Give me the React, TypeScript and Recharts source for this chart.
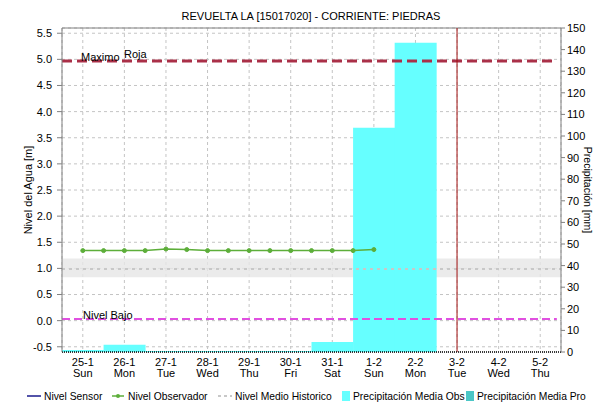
import React from 'react';
import {
  ComposedChart,
  Bar,
  Line,
  XAxis,
  YAxis,
  CartesianGrid,
  ReferenceLine,
  ReferenceArea,
} from 'recharts';

// ---- data ----
const days = ['25-1', '26-1', '27-1', '28-1', '29-1', '30-1', '31-1', '1-2', '2-2', '3-2', '4-2', '5-2'];
const weekdays = ['Sun', 'Mon', 'Tue', 'Wed', 'Thu', 'Fri', 'Sat', 'Sun', 'Mon', 'Tue', 'Wed', 'Thu'];
const precipObs = [0.9, 3.4, 0.5, 0.5, 0.5, 0.5, 4.6, 103.8, 143.2, 0, 0, 0];

// observer readings every 12 h (in day units from 25-1)
const obsTimes = [0, 0.5, 1, 1.5, 2, 2.5, 3, 3.5, 4, 4.5, 5, 5.5, 6, 6.5, 7];
const obsLevels = [1.34, 1.34, 1.34, 1.34, 1.37, 1.36, 1.34, 1.34, 1.34, 1.34, 1.34, 1.34, 1.34, 1.34, 1.36];

const leftTicks = [-0.5, 0, 0.5, 1, 1.5, 2, 2.5, 3, 3.5, 4, 4.5, 5, 5.5];
const rightTicks = [0, 10, 20, 30, 40, 50, 60, 70, 80, 90, 100, 110, 120, 130, 140, 150];

const nivelMaximo = 4.97;
const nivelBajo = 0.03;
const nivelMedio = 0.99;
const medioBandLow = 0.83;
const medioBandHigh = 1.19;
const currentDay = 9;
const leftDomain: [number, number] = [-0.6, 5.6];
const rightDomain: [number, number] = [0, 150];
const timeDomain: [number, number] = [-0.5, 11.5];

const chartData = days.map((d, i) => ({ day: d, wd: weekdays[i], obs: precipObs[i] }));
const obsData = obsTimes.map((t, i) => ({ t, level: obsLevels[i] }));

const FONT = '"Liberation Sans", Arial, sans-serif';

const DayTick = (props: any) => {
  const { x, y, payload, index } = props;
  return (
    <g>
      <text x={x} y={y + 14} textAnchor="middle" fontSize={11} fontFamily={FONT} fill="#000">
        {payload.value}
      </text>
      <text x={x} y={y + 24.5} textAnchor="middle" fontSize={11} fontFamily={FONT} fill="#000">
        {weekdays[index] ?? chartData[index]?.wd}
      </text>
    </g>
  );
};

const MaximoLabel = (props: any) => {
  const vb = props.viewBox || {};
  const x0 = vb.x ?? 62;
  const y0 = vb.y ?? 60;
  return (
    <g>
      <text x={x0 + 19} y={y0 + 0.5} fontSize={11} fontFamily={FONT} fill="#000">Maximo</text>
      <text x={x0 + 62} y={y0 - 2.5} fontSize={11} fontFamily={FONT} fill="#000">Roja</text>
    </g>
  );
};

const BajoLabel = (props: any) => {
  const vb = props.viewBox || {};
  const x0 = vb.x ?? 62;
  const y0 = vb.y ?? 319;
  return (
    <text x={x0 + 21} y={y0 - 0.5} fontSize={11} fontFamily={FONT} fill="#000">Nivel Bajo</text>
  );
};

const legendItems = [
  { left: 27, label: 'Nivel Sensor', kind: 'line', color: '#1a1a8c' },
  { left: 112, label: 'Nivel Observador', kind: 'dotline', color: '#5DAE3A' },
  { left: 218, label: 'Nivel Medio Historico', kind: 'dash', color: '#c8c8c8' },
  { left: 342, label: 'Precipitación Media Obs', kind: 'box', color: '#66FFFF' },
  { left: 466, label: 'Precipitación Media Pro', kind: 'box', color: '#4CC6C6' },
];

const Swatch = ({ kind, color }: { kind: string; color: string }) => {
  if (kind === 'box') {
    return (
      <svg width={8} height={10} style={{ display: 'block', marginRight: 3 }}>
        <rect x={0} y={0} width={8} height={10} fill={color} />
      </svg>
    );
  }
  const w = kind === 'dotline' ? 12 : 14;
  return (
    <svg width={w} height={10} style={{ display: 'block', marginRight: kind === 'dotline' ? 4 : 3 }}>
      <line
        x1={0}
        x2={w}
        y1={5}
        y2={5}
        stroke={color}
        strokeWidth={kind === 'dash' ? 2 : 1.5}
        strokeDasharray={kind === 'dash' ? '3 3' : undefined}
      />
      {kind === 'dotline' && <circle cx={w / 2} cy={5} r={2} fill={color} />}
    </svg>
  );
};

export default function App() {
  return (
    <div
      style={{
        position: 'absolute',
        left: 0,
        top: 0,
        width: 593,
        height: 404,
        background: '#fff',
        overflow: 'hidden',
        fontFamily: FONT,
      }}
    >
      <div
        style={{
          position: 'absolute',
          left: 0,
          width: 622,
          top: 9,
          textAlign: 'center',
          fontSize: 11,
          lineHeight: '14px',
          color: '#000',
          whiteSpace: 'nowrap',
        }}
      >
        REVUELTA LA [15017020] - CORRIENTE: PIEDRAS
      </div>
      <ComposedChart
        width={593}
        height={404}
        data={chartData}
        margin={{ top: 28, right: 0, bottom: 22, left: 0 }}
        barCategoryGap={0}
        barGap={0}
      >
        <CartesianGrid xAxisId="cat" yAxisId="left" stroke="#c4c4c4" strokeDasharray="3 3" />
        <XAxis
          xAxisId="cat"
          dataKey="day"
          interval={0}
          height={30}
          tickSize={0}
          tickMargin={0}
          tickLine={false}
          axisLine={{ stroke: '#000', strokeDasharray: '1 1', strokeWidth: 1.5 }}
          tick={<DayTick />}
        />
        <XAxis
          xAxisId="t"
          dataKey="t"
          type="number"
          domain={timeDomain}
          hide
          allowDataOverflow
        />
        <YAxis
          yAxisId="left"
          orientation="left"
          width={62}
          domain={leftDomain}
          ticks={leftTicks}
          allowDataOverflow
          tickFormatter={(v: number) => v.toFixed(1)}
          tickSize={5}
          tickMargin={5}
          axisLine={{ stroke: '#808080' }}
          tickLine={{ stroke: '#808080' }}
          tick={{ fill: '#000', fontSize: 11, fontFamily: FONT }}
          label={{
            value: 'Nivel del Agua [m]',
            angle: -90,
            position: 'insideLeft',
            offset: 28,
            style: { textAnchor: 'middle', fontSize: 11, fontFamily: FONT, fill: '#000' },
          }}
        />
        <YAxis
          yAxisId="right"
          orientation="right"
          width={32}
          domain={rightDomain}
          ticks={rightTicks}
          allowDataOverflow
          tickSize={4}
          tickMargin={2}
          axisLine={{ stroke: '#808080' }}
          tickLine={{ stroke: '#808080' }}
          tick={{ fill: '#000', fontSize: 11, fontFamily: FONT }}
          label={{
            value: 'Precipitación [mm]',
            angle: 90,
            position: 'insideRight',
            offset: 5,
            style: { textAnchor: 'middle', fontSize: 10.5, fontFamily: FONT, fill: '#000' },
          }}
        />
        <ReferenceArea
          xAxisId="t"
          yAxisId="left"
          x1={timeDomain[0]}
          x2={timeDomain[1]}
          y1={medioBandLow}
          y2={medioBandHigh}
          fill="#e6e6e6"
          fillOpacity={0.8}
          stroke="none"
          ifOverflow="visible"
        />
        <Bar
          xAxisId="cat"
          yAxisId="right"
          dataKey="obs"
          fill="#66FFFF"
          isAnimationActive={false}
        />
        <ReferenceLine
          xAxisId="t"
          yAxisId="left"
          y={nivelMedio}
          stroke="#c8c8c8"
          strokeWidth={2}
          strokeDasharray="3 4"
        />
        <ReferenceLine
          xAxisId="t"
          yAxisId="left"
          segment={[
            { x: timeDomain[0], y: nivelBajo },
            { x: 11.4, y: nivelBajo },
          ]}
          ifOverflow="visible"
          stroke="#E050E0"
          strokeWidth={2}
          strokeDasharray="8 4"
          label={<BajoLabel />}
        />
        <ReferenceLine
          xAxisId="t"
          yAxisId="left"
          segment={[
            { x: timeDomain[0], y: nivelMaximo },
            { x: 11.4, y: nivelMaximo },
          ]}
          ifOverflow="visible"
          stroke="#AA3048"
          strokeWidth={3}
          strokeDasharray="10 5"
          label={<MaximoLabel />}
        />
        <ReferenceLine xAxisId="t" yAxisId="left" y={leftDomain[1]} stroke="#808080" />
        <ReferenceLine xAxisId="t" yAxisId="left" x={currentDay} stroke="#A01010" strokeWidth={1} />
        <Line
          xAxisId="t"
          yAxisId="left"
          data={obsData}
          dataKey="level"
          type="linear"
          stroke="#5DAE3A"
          strokeWidth={1.5}
          dot={{ r: 2, fill: '#5DAE3A', stroke: '#5DAE3A', strokeWidth: 1 }}
          isAnimationActive={false}
        />
      </ComposedChart>
      {legendItems.map((it) => (
        <div
          key={it.label}
          style={{
            position: 'absolute',
            left: it.left,
            top: 389,
            height: 14,
            display: 'flex',
            alignItems: 'center',
            whiteSpace: 'nowrap',
            fontSize: 10.3,
            color: '#000',
          }}
        >
          <Swatch kind={it.kind} color={it.color} />
          <span>{it.label}</span>
        </div>
      ))}
    </div>
  );
}
